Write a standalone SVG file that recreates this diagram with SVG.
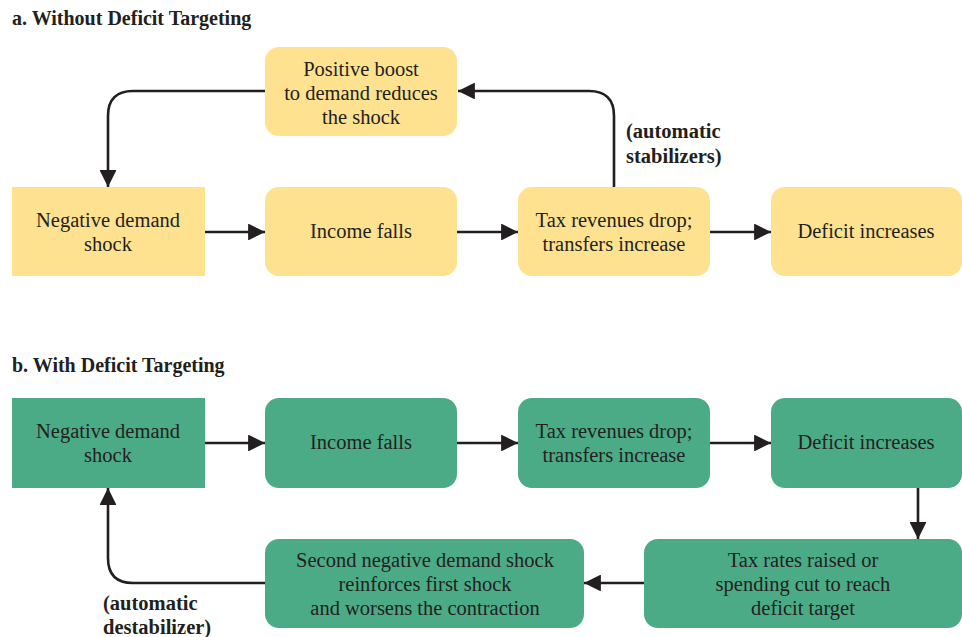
<svg xmlns="http://www.w3.org/2000/svg" width="962" height="637" viewBox="0 0 962 637">
<defs>
<style>
.y{fill:#FEE290}
.g{fill:#4BAB86}
text{font-family:"Liberation Serif","Times New Roman",serif;fill:#231F20}
.t{font-size:20.5px;text-anchor:middle}
.h{font-size:20px;font-weight:bold}
.l{font-size:20.5px;font-weight:bold}
.c{fill:none;stroke:#231F20;stroke-width:2.6}
</style>
<marker id="ah" viewBox="0 0 10 10" refX="10" refY="5" markerWidth="6.5" markerHeight="6.5" markerUnits="strokeWidth" orient="auto">
<path d="M0,0 L10,5 L0,10 z" fill="#231F20"/>
</marker>
</defs>
<rect width="962" height="637" fill="#fff"/>
<text class="h" x="12" y="25">a. Without Deficit Targeting</text>
<text class="h" x="12" y="372">b. With Deficit Targeting</text>

<g id="a-boost"><rect class="y" x="265" y="47" width="192" height="89" rx="14"/>
<text class="t" x="361" y="76">Positive boost</text><text class="t" x="361" y="100">to demand reduces</text><text class="t" x="361" y="124">the shock</text></g>
<g id="a-shock"><rect class="y" x="12" y="187" width="193" height="89"/>
<text class="t" x="108" y="227">Negative demand</text><text class="t" x="108" y="251">shock</text></g>
<g id="a-income"><rect class="y" x="265" y="187" width="192" height="89" rx="14"/>
<text class="t" x="361" y="238">Income falls</text></g>
<g id="a-tax"><rect class="y" x="518" y="187" width="192" height="89" rx="14"/>
<text class="t" x="614" y="227">Tax revenues drop;</text><text class="t" x="614" y="251">transfers increase</text></g>
<g id="a-deficit"><rect class="y" x="771" y="187" width="191" height="89" rx="14"/>
<text class="t" x="866" y="238">Deficit increases</text></g>
<g id="a-label"><text class="l" x="626" y="138">(automatic</text><text class="l" x="626" y="163">stabilizers)</text></g>

<g id="b-shock"><rect class="g" x="12" y="398" width="193" height="90"/>
<text class="t" x="108" y="438">Negative demand</text><text class="t" x="108" y="462">shock</text></g>
<g id="b-income"><rect class="g" x="265" y="398" width="192" height="90" rx="14"/>
<text class="t" x="361" y="449">Income falls</text></g>
<g id="b-tax"><rect class="g" x="518" y="398" width="192" height="90" rx="14"/>
<text class="t" x="614" y="438">Tax revenues drop;</text><text class="t" x="614" y="462">transfers increase</text></g>
<g id="b-deficit"><rect class="g" x="771" y="398" width="191" height="90" rx="14"/>
<text class="t" x="866" y="449">Deficit increases</text></g>
<g id="b-rates"><rect class="g" x="644" y="539" width="318" height="89" rx="14"/>
<text class="t" x="803" y="567">Tax rates raised or</text><text class="t" x="803" y="591">spending cut to reach</text><text class="t" x="803" y="615">deficit target</text></g>
<g id="b-second"><rect class="g" x="265" y="539" width="319" height="89" rx="14"/>
<text class="t" x="425" y="567">Second negative demand shock</text><text class="t" x="425" y="591">reinforces first shock</text><text class="t" x="425" y="615">and worsens the contraction</text></g>
<g id="b-label"><text class="l" x="103" y="610">(automatic</text><text class="l" x="103" y="634">destabilizer)</text></g>

<g id="connectors">
<path class="c" marker-end="url(#ah)" d="M205,232 H265"/>
<path class="c" marker-end="url(#ah)" d="M457,232 H518"/>
<path class="c" marker-end="url(#ah)" d="M710,232 H771"/>
<path class="c" marker-end="url(#ah)" d="M614,187 V116 Q614,91 589,91 H458"/>
<path class="c" marker-end="url(#ah)" d="M265,91 H133 Q108,91 108,116 V187"/>
<path class="c" marker-end="url(#ah)" d="M205,443 H265"/>
<path class="c" marker-end="url(#ah)" d="M457,443 H518"/>
<path class="c" marker-end="url(#ah)" d="M710,443 H771"/>
<path class="c" marker-end="url(#ah)" d="M918,488 V539"/>
<path class="c" marker-end="url(#ah)" d="M644,583 H584"/>
<path class="c" marker-end="url(#ah)" d="M265,583 H133 Q108,583 108,558 V488"/>
</g>
</svg>
